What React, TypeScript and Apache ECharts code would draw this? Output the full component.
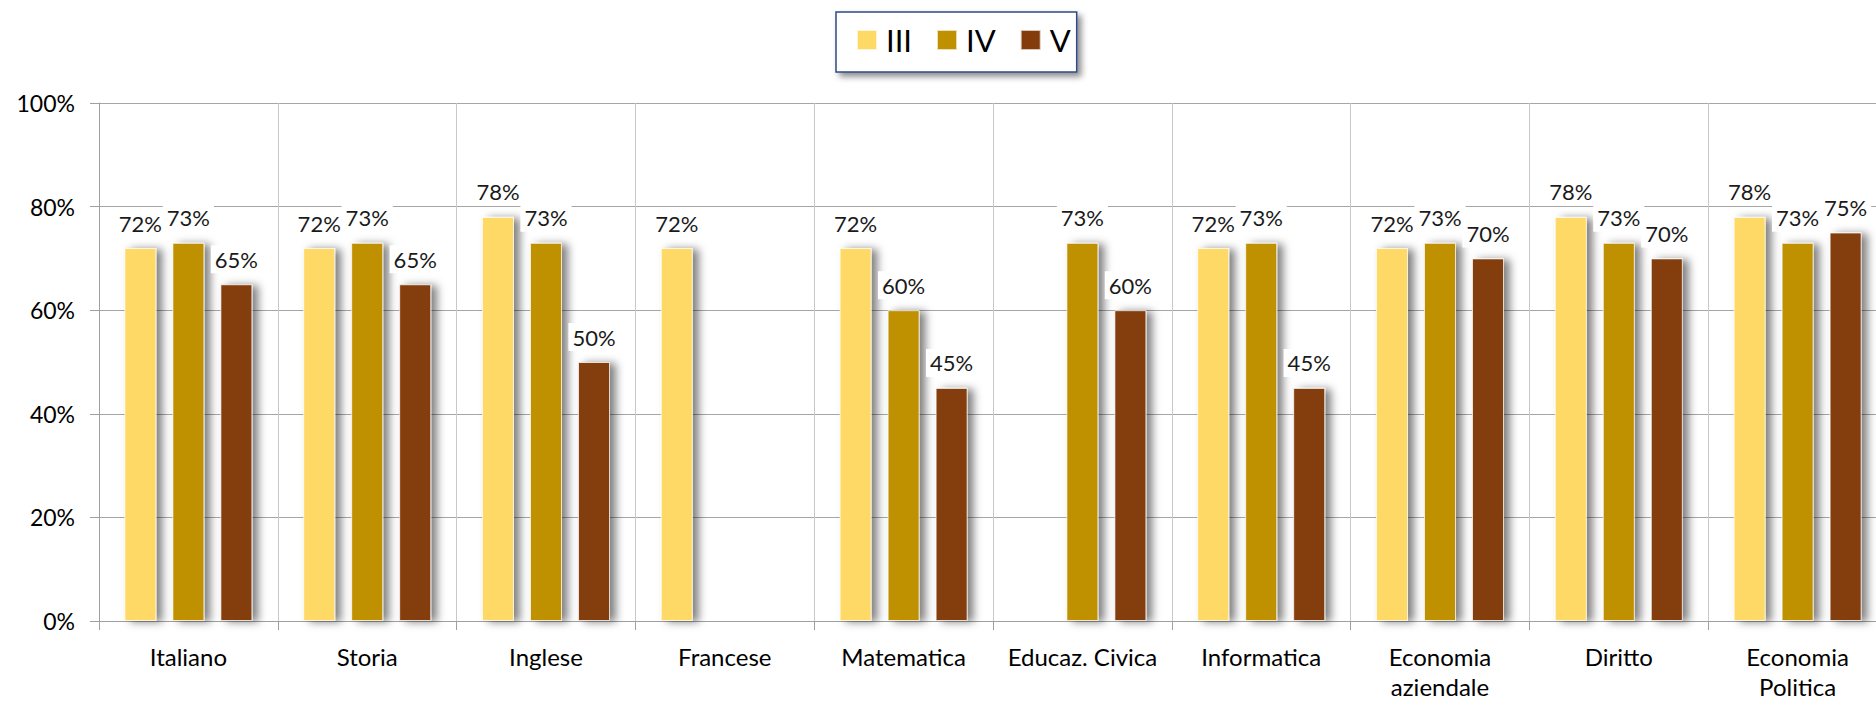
import React, { useEffect, useRef } from "react";
import * as echarts from "echarts";

const categories = [
  "Italiano",
  "Storia",
  "Inglese",
  "Francese",
  "Matematica",
  "Educaz. Civica",
  "Informatica",
  "Economia\naziendale",
  "Diritto",
  "Economia\nPolitica",
];
const seriesNames = ["III", "IV", "V"];
const valuesIII = [72, 72, 78, 72, 72, null, 72, 72, 78, 78];
const valuesIV = [73, 73, 73, null, 60, 73, 73, 73, 73, 73];
const valuesV = [65, 65, 50, null, 45, 60, 45, 70, 70, 75];
const colors = ["#FFD966", "#BF9000", "#843C0C"];
const yTicks = { min: 0, max: 100, interval: 20 };

const FONT = "Lato";
const INNER_W = 1940;

export default function App() {
  const ref = useRef<HTMLDivElement>(null);
  useEffect(() => {
    if (!ref.current) return;
    const chart = echarts.init(ref.current, null, { renderer: "svg" });
    const allValues = [valuesIII, valuesIV, valuesV];
    chart.setOption({
      animation: false,
      backgroundColor: "#ffffff",
      textStyle: { fontFamily: FONT },
      legend: {
        left: 836,
        top: 12,
        padding: [12, 6, 16, 20],
        itemWidth: 20,
        itemHeight: 20,
        itemGap: 24,
        icon: "rect",
        backgroundColor: "#ffffff",
        borderColor: "#2e4a86",
        borderWidth: 1.5,
        shadowColor: "rgba(0,0,0,0.45)",
        shadowBlur: 6,
        shadowOffsetX: 4,
        shadowOffsetY: 4,
        textStyle: {
          fontFamily: FONT,
          fontSize: 31,
          color: "#000000",
          lineHeight: 32,
          padding: [0, 0, 0, 4],
        },
        data: seriesNames,
      },
      grid: {
        left: 99,
        top: 103,
        height: 520,
        right: INNER_W - 99 - 1788,
        containLabel: false,
      },
      xAxis: {
        type: "category",
        data: categories,
        boundaryGap: true,
        axisLine: { show: true, lineStyle: { color: "#a0a0a0", width: 1 } },
        axisTick: { show: true, length: 9, lineStyle: { color: "#a0a0a0" } },
        splitLine: { show: true, lineStyle: { color: "#c8c8c8", width: 1 } },
        axisLabel: {
          fontFamily: FONT,
          fontSize: 24,
          color: "#000000",
          margin: 20,
          lineHeight: 30,
          interval: 0,
        },
      },
      yAxis: {
        type: "value",
        min: yTicks.min,
        max: yTicks.max,
        interval: yTicks.interval,
        axisLine: { show: true, lineStyle: { color: "#a0a0a0", width: 1 } },
        axisTick: { show: true, length: 9, lineStyle: { color: "#a0a0a0" } },
        splitLine: { show: true, lineStyle: { color: "#a6a6a6", width: 1 } },
        axisLabel: {
          fontFamily: FONT,
          fontSize: 23,
          color: "#000000",
          margin: 24,
          formatter: "{value}%",
        },
      },
      series: seriesNames.map((name, i) => ({
        name,
        type: "bar",
        data: allValues[i],
        barWidth: 32,
        barGap: "50%",
        itemStyle: {
          color: colors[i],
          borderColor: "rgba(255,255,255,0.7)",
          borderWidth: 1,
          shadowColor: "rgba(0,0,0,0.5)",
          shadowBlur: 8,
          shadowOffsetX: 6,
          shadowOffsetY: 1,
        },
        label: {
          show: true,
          position: "top",
          distance: 11,
          formatter: "{c}%",
          fontFamily: FONT,
          fontSize: 22,
          color: "#1a1a1a",
          backgroundColor: "#ffffff",
          padding: [3, 4, 3, 4],
        },
      })),
    });
    return () => chart.dispose();
  }, []);
  return (
    <div
      style={{
        position: "fixed",
        left: 0,
        top: 0,
        width: 1876,
        height: 701,
        overflow: "hidden",
      }}
    >
      <div ref={ref} style={{ width: INNER_W, height: 701 }} />
    </div>
  );
}
